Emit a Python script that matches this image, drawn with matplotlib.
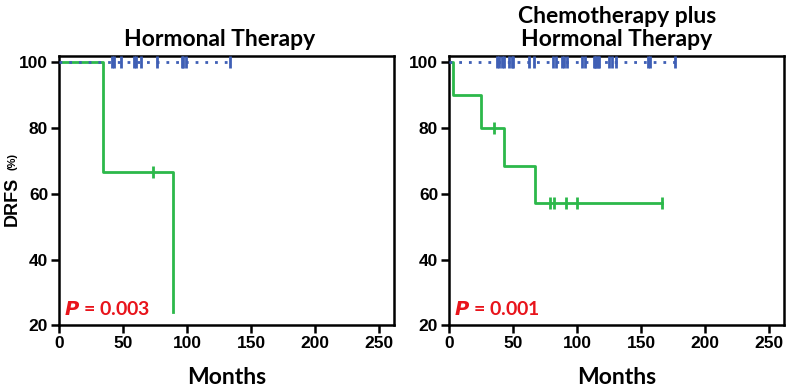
import matplotlib.pyplot as plt
import numpy as np

# Hormonal therapy panel
ht_blue_censor = [41, 43, 48, 58, 60, 64, 76, 96, 97, 99, 133]
ht_green_t = [0, 34, 89, 89]
ht_green_s = [100, 66.7, 66.7, 24]
ht_green_censor_t = [73]
ht_green_censor_s = [66.7]

# Chemotherapy plus hormonal therapy panel
ct_blue_censor = [37, 39, 41, 43, 47, 49, 50, 62, 66, 81, 83, 88, 90, 92,
                  104, 106, 113, 114, 115, 116, 117, 125, 127, 130, 155, 157, 176]
ct_green_t = [0, 3, 25, 43, 67, 166]
ct_green_s = [100, 90, 80, 68.6, 57.1, 57.1]
ct_green_censor_t = [35, 79, 82, 91, 100, 166]
ct_green_censor_s = [80, 57.1, 57.1, 57.1, 57.1, 57.1]

titles = ["Hormonal Therapy", "Chemotherapy plus\nHormonal Therapy"]
pvals = ["0.003", "0.001"]

green = '#2cb84a'
blue = '#3f5fb5'

fig = plt.figure(figsize=(7.88, 3.91), dpi=100)
ax1 = fig.add_axes([0.0753, 0.168, 0.4247, 0.689])
ax2 = fig.add_axes([0.5702, 0.168, 0.4247, 0.689])

panels = [
    (ax1, ht_blue_censor, ht_green_t, ht_green_s, ht_green_censor_t, ht_green_censor_s),
    (ax2, ct_blue_censor, ct_green_t, ct_green_s, ct_green_censor_t, ct_green_censor_s),
]

for i, (ax, bc, gt, gs, gct, gcs) in enumerate(panels):
    ax.step(gt, gs, where='post', color=green, lw=2, zorder=2)
    ax.plot(gct, gcs, ls='none', marker='|', ms=9, mew=2, color=green, zorder=3)
    ax.plot([0, max(bc)], [100, 100], color=blue, lw=2, ls=(0, (1, 2.5)), zorder=4)
    ax.plot(bc, [100] * len(bc), ls='none', marker='|', ms=9, mew=2, color=blue, zorder=5)

    ax.set_xlim(0, 261.5)
    ax.set_ylim(20, 102)
    ax.set_xticks([0, 50, 100, 150, 200, 250])
    ax.set_yticks([20, 40, 60, 80, 100])
    ax.tick_params(direction='out', length=6, width=1.8, labelsize=12.5, pad=2)
    for lab in ax.get_xticklabels() + ax.get_yticklabels():
        lab.set_fontweight('bold')
        lab.set_family('Liberation Sans')
    for sp in ax.spines.values():
        sp.set_linewidth(1.8)
    ax.set_title(titles[i], fontsize=16.5, fontweight='bold', family='Lato', pad=7,
                 linespacing=1.1, x=0.48 if i == 0 else 0.5)
    ax.set_xlabel('Months', fontsize=16.5, fontweight='bold', family='Lato', labelpad=11)
    ax.text(0.015, 0.06, r'$\bfit{P}$' + ' = ' + pvals[i], transform=ax.transAxes,
            color='#e8141b', fontsize=14, fontweight='bold', family='Lato', va='center')

fig.text(0.016, 0.486, 'DRFS', rotation=90, fontsize=13, fontweight='bold',
         family='Liberation Sans', ha='center', va='center')
fig.text(0.016, 0.588, '(%)', rotation=90, fontsize=8, fontweight='bold',
         family='Liberation Sans', ha='center', va='center')

fig.savefig('out.png', dpi=100)
